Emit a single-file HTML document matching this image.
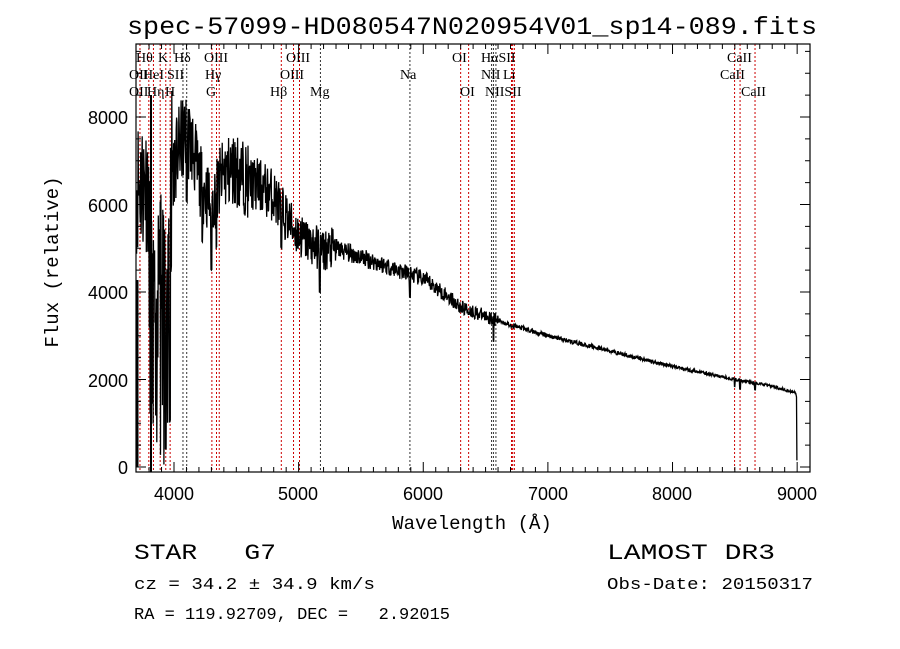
<!DOCTYPE html>
<html><head><meta charset="utf-8"><style>
html,body{margin:0;padding:0;background:#fff;}
svg{display:block;}
text{white-space:pre;}
.t{font-family:"Liberation Sans",sans-serif;fill:#000;}
.m{font-family:"Liberation Mono",monospace;fill:#000;}
.s{font-family:"Liberation Serif",serif;font-size:14px;fill:#000;}
</style></head><body>
<svg id="c" width="900" height="649" viewBox="0 0 900 649" xmlns="http://www.w3.org/2000/svg" xml:space="preserve">
<rect width="900" height="649" fill="#fff"/>
<text class="m" x="472" y="34" font-size="25" text-anchor="middle" textLength="690" lengthAdjust="spacingAndGlyphs">spec-57099-HD080547N020954V01_sp14-089.fits</text>
<g id="lines"></g>
<g id="ticks" stroke="#000" stroke-width="1"></g>
<rect x="136" y="44" width="674" height="428" fill="none" stroke="#000" stroke-width="1.2"/>
<polyline id="spec" fill="none" stroke="#000" stroke-width="1.3"/>
<g class="t" font-size="18" text-anchor="end">
<text x="128" y="124">8000</text><text x="128" y="212">6000</text><text x="128" y="299">4000</text><text x="128" y="387">2000</text><text x="128" y="474">0</text>
</g>
<g class="t" font-size="18" text-anchor="middle">
<text x="174" y="500">4000</text><text x="298" y="500">5000</text><text x="423" y="500">6000</text><text x="548" y="500">7000</text><text x="672" y="500">8000</text><text x="797" y="500">9000</text>
</g>
<text class="m" x="472" y="529" font-size="19" text-anchor="middle">Wavelength (Å)</text>
<text class="m" x="58" y="262" font-size="19" text-anchor="middle" transform="rotate(-90 58 262)">Flux (relative)</text>
<g class="m" font-size="22">
<text x="134" y="559" textLength="142" lengthAdjust="spacingAndGlyphs">STAR   G7</text>
<text x="607" y="559" textLength="168" lengthAdjust="spacingAndGlyphs">LAMOST DR3</text>
</g>
<g class="m" font-size="17">
<text x="134" y="589" textLength="241" lengthAdjust="spacingAndGlyphs">cz = 34.2 ± 34.9 km/s</text>
<text x="607" y="589" textLength="206" lengthAdjust="spacingAndGlyphs">Obs-Date: 20150317</text>
<text x="134" y="619" textLength="316" lengthAdjust="spacingAndGlyphs">RA = 119.92709, DEC =   2.92015</text>
</g>
</svg>
<script>
var NS="http://www.w3.org/2000/svg";
function X(l){return 174+(l-4000)*0.12463;}
function Y(f){return 467-f*0.04375;}
var tg=document.getElementById('ticks');
function ln(g,x1,y1,x2,y2,extra){var e=document.createElementNS(NS,'line');e.setAttribute('x1',x1);e.setAttribute('y1',y1);e.setAttribute('x2',x2);e.setAttribute('y2',y2);if(extra)for(var k in extra)e.setAttribute(k,extra[k]);g.appendChild(e);return e;}
for(var l=3800;l<=9000;l+=100){var x=X(l),L=(l%1000==0)?10:5;ln(tg,x,472,x,472-L);ln(tg,x,44,x,44+L);}
for(var f=0;f<=9500;f+=500){var y=Y(f);if(y<44)break;var L=(f%2000==0)?10:5;ln(tg,136,y,136+L,y);ln(tg,810,y,810-L,y);}
var lg=document.getElementById('lines');
var lines=[[3727,'r'],[3798,'r'],[3835,'r'],[3889,'r'],[3934,'r'],[3969,'r'],[4072,'k'],[4102,'k'],[4304,'r'],[4341,'r'],[4363,'r'],[4861,'r'],[4959,'r'],[5007,'r'],[5175,'k'],[5893,'k'],[6300,'r'],[6364,'r'],[6548,'k'],[6563,'k'],[6583,'k'],[6708,'r'],[6717,'r'],[6731,'r'],[8498,'r'],[8542,'r'],[8662,'r']];
lines.forEach(function(a){var x=X(a[0]);ln(lg,x,44,x,472,{stroke:a[1]=='r'?'#c00':'#333','stroke-width':1,'stroke-dasharray':'2,2'});});
var labs=[['Hθ',136,62],['K',158,62],['Hδ',174,62],['OIII',204,62],['OIII',286,62],['OI',452,62],['HαSII',481,62],['CaII',727,62],
['OII',129,79],['HeI',143,79],['SII',167,79],['Hγ',205,79],['OIII',280,79],['Na',400,79],['NII',481,79],['Li',503,79],['CaII',720,79],
['OII',129,96],['Hη',147,96],['H',165,96],['G',206,96],['Hβ',270,96],['Mg',310,96],['OI',460,96],['NIISII',485,96],['CaII',741,96]];
var svg=document.getElementById('c');
labs.forEach(function(a){var t=document.createElementNS(NS,'text');t.setAttribute('class','s');t.setAttribute('x',a[1]);t.setAttribute('y',a[2]);t.textContent=a[0];svg.appendChild(t);});
var anc=[[3700,6500],[3790,6500],[3810,4000],[3850,3500],[3900,4500],[3950,4000],[3990,6800],[4050,7400],[4100,7600],[4150,7300],[4200,6600],[4300,6000],[4400,6700],[4500,6800],[4600,6500],[4700,6400],[4800,6200],[4900,5700],[5000,5300],[5100,5100],[5200,4950],[5300,5000],[5500,4800],[5700,4600],[5800,4500],[6000,4300],[6200,3900],[6300,3650],[6500,3450],[6700,3250],[7000,3000],[7500,2650],[8000,2300],[8500,2000],[8800,1850],[8980,1700]];
function cont(l){for(var i=0;i<anc.length-1;i++){if(l<=anc[i+1][0]){var t=(l-anc[i][0])/(anc[i+1][0]-anc[i][0]);return anc[i][1]+t*(anc[i+1][1]-anc[i][1]);}}return 1700;}
var seed=11;function rnd(){seed=(seed*16807)%2147483647;return seed/2147483647;}
var pts=[];
for(var l=3700;l<=8990;l+=3){
 var c=cont(l),amp;
 if(l<3800)amp=0.25;else if(l<3990)amp=0.45;else if(l<4600)amp=0.13;else if(l<5300)amp=0.1;else if(l<6600)amp=0.045;else amp=0.018;
 var f=c*(1+amp*(rnd()*2-1));
 if(l>3800&&l<3990&&rnd()<0.2)f=c*rnd()*0.4;
 var dips=[[3934,0.1],[3969,0.2],[4102,0.8],[4227,0.8],[4300,0.75],[4340,0.8],[4861,0.85],[5170,0.8],[5893,0.88],[6563,0.85],[8498,0.92],[8542,0.9],[8662,0.92]];
 dips.forEach(function(d){if(Math.abs(l-d[0])<4)f=c*d[1];});
 pts.push(X(l).toFixed(1)+','+Y(Math.max(0,f)).toFixed(1));
}
pts.push(X(8995).toFixed(1)+','+Y(1600).toFixed(1));
pts.push(X(8998).toFixed(1)+','+Y(150).toFixed(1));
document.getElementById('spec').setAttribute('points',pts.join(' '));
ln(svg,137.5,467,137.5,280,{stroke:'#000','stroke-width':2});
ln(svg,151,472,151,95,{stroke:'#000','stroke-width':2});
</script>
</body></html>
